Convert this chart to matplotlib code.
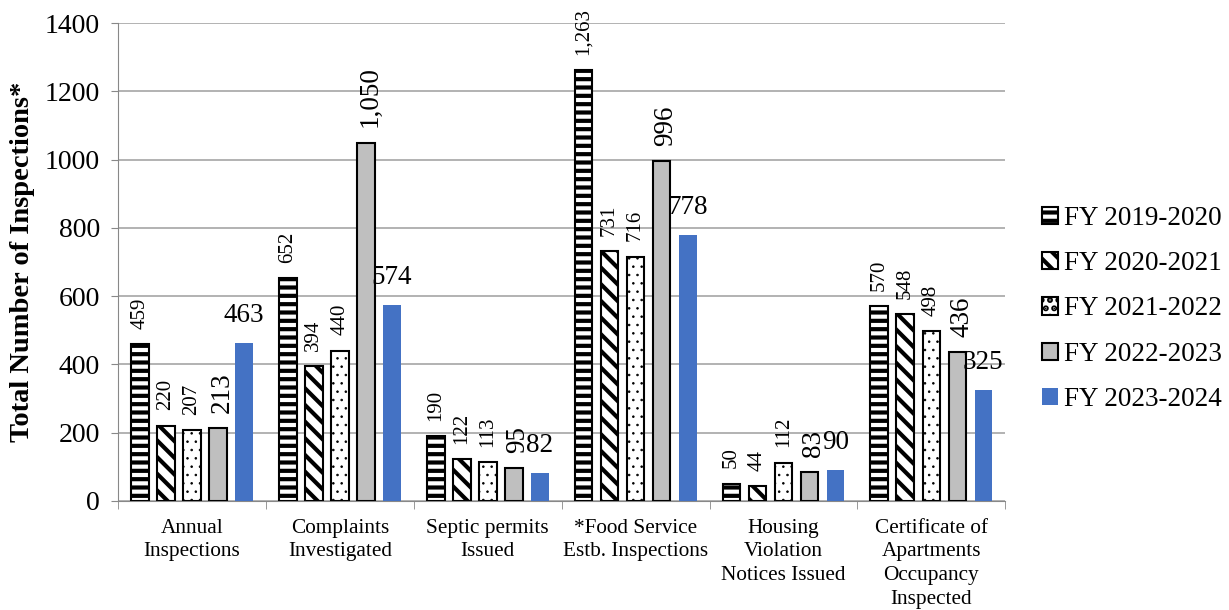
import matplotlib.pyplot as plt
import numpy as np

plt.rcParams['font.family'] = ['Liberation Serif', 'DejaVu Serif']
plt.rcParams['hatch.linewidth'] = 3.0

categories = ['Annual\nInspections', 'Complaints\nInvestigated', 'Septic permits\nIssued',
              '*Food Service\nEstb. Inspections', 'Housing\nViolation\nNotices Issued',
              'Certificate of\nApartments\nOccupancy\nInspected']
years = ['FY 2019-2020', 'FY 2020-2021', 'FY 2021-2022', 'FY 2022-2023', 'FY 2023-2024']
fy_2019 = [459, 652, 190, 1263, 50, 570]
fy_2020 = [220, 394, 122, 731, 44, 548]
fy_2021 = [207, 440, 113, 716, 112, 498]
fy_2022 = [213, 1050, 95, 996, 83, 436]
fy_2023 = [463, 574, 82, 778, 90, 325]

series = [fy_2019, fy_2020, fy_2021, fy_2022, fy_2023]
faces = ['white', 'white', 'white', '#BFBFBF', '#4472C4']
edges = ['black', 'black', 'black', 'black', 'none']
hatches = ['--', '\\\\', '..', None, None]
hatch_lw = [3.0, 3.0, 0.6, 1.0, 1.0]

fig = plt.figure(figsize=(12.29, 6.10), dpi=100)
ax = fig.add_axes([0.096, 0.179, 0.722, 0.783])

x = np.arange(len(categories))
width = 0.12
step = 0.176

for i, vals in enumerate(series):
    pos = x + (i - 2) * step
    with plt.rc_context({'hatch.linewidth': hatch_lw[i]}):
        bars = ax.bar(pos, vals, width, color=faces[i], edgecolor=edges[i],
                      hatch=hatches[i], linewidth=1.5, label=years[i], zorder=3)
    for b in bars:
        if hasattr(b, 'set_hatch_linewidth'):
            b.set_hatch_linewidth(hatch_lw[i])
    for xp, v in zip(pos, vals):
        txt = f'{v:,}'
        if i < 3:
            ax.annotate(txt, (xp, v), xytext=(0, 11), textcoords='offset points',
                        ha='center', va='bottom', rotation=90, fontsize=15)
        elif i == 3:
            ax.annotate(txt, (xp, v), xytext=(3, 11), textcoords='offset points',
                        ha='center', va='bottom', rotation=90, fontsize=19.5)
        else:
            ax.annotate(txt, (xp, v), xytext=(0, 11), textcoords='offset points',
                        ha='center', va='bottom', fontsize=19.5)

ax.set_xlim(-0.5, len(categories) - 0.5)
ax.set_ylim(0, 1400)
ax.set_yticks(range(0, 1401, 200))
ax.tick_params(axis='y', labelsize=20, color='#888888', length=5, pad=8)
ax.set_xticks(x)
ax.set_xticklabels(categories, fontsize=15.3, linespacing=1.33)
ax.tick_params(axis='x', which='major', length=0, pad=13)
ax.set_xticks(np.arange(-0.5, len(categories)), minor=True)
ax.tick_params(axis='x', which='minor', length=6, color='#888888')

ax.grid(axis='y', color='#A6A6A6', linewidth=1.2, zorder=0)
for s in ['top', 'right']:
    ax.spines[s].set_visible(False)
for s in ['left', 'bottom']:
    ax.spines[s].set_color('#888888')

ax.set_ylabel('Total Number of Inspections*', fontsize=20.5, fontweight='bold')
ax.yaxis.set_label_coords(-0.094, 0.5)

fig.legend(loc='center left', bbox_to_anchor=(0.828, 0.4935), frameon=False,
           fontsize=19.5, handlelength=0.6, handleheight=0.6, handletextpad=0.2,
           labelspacing=0.75)

fig.savefig('out.png', dpi=100)
